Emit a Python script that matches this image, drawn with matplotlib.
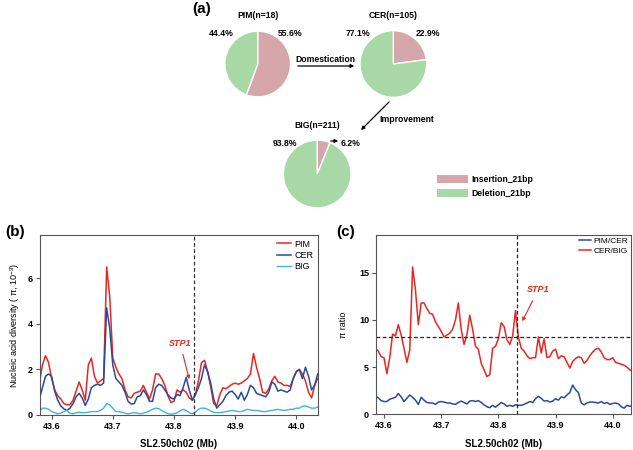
import matplotlib

matplotlib.use("Agg")
import matplotlib.pyplot as plt
import numpy as np
from matplotlib.patches import Patch

plt.rcParams["font.family"] = ["Liberation Sans", "DejaVu Sans"]
plt.rcParams["mathtext.fontset"] = "custom"
plt.rcParams["mathtext.rm"] = "Liberation Sans"
plt.rcParams["axes.unicode_minus"] = False

# (a) 21bp indel frequency per group
groups = ["PIM", "CER", "BIG"]
n_samples = [18, 105, 211]
insertion_pct = [55.6, 22.9, 6.2]
deletion_pct = [44.4, 77.1, 93.8]

# (b)/(c) windows along SL2.50ch02, step 5 kb
pos_mb = np.round(43.58 + 0.005 * np.arange(92), 3)

pi_pim = [
    1.4, 2.2, 2.6, 2.3, 1.6, 1.1, 0.85, 0.7, 0.5, 0.45,
    0.45, 0.65, 1.05, 1.45, 1.1, 0.65, 2.2, 2.5, 1.7, 1.4,
    1.5, 1.6, 6.5, 5.2, 2.5, 2.1, 1.8, 1.6, 1.1, 0.8,
    0.75, 0.95, 1.0, 1.05, 1.3, 1.0, 0.7, 1.1, 1.8, 1.8,
    1.6, 1.3, 0.85, 0.55, 0.6, 1.1, 1.0, 1.1, 1.0, 0.75,
    0.65, 0.9, 1.5, 2.3, 2.4, 1.9, 1.25, 0.5, 0.4, 0.9,
    1.2, 1.15, 1.25, 1.35, 1.4, 1.35, 1.4, 1.5, 1.6, 1.8,
    2.7, 2.1, 1.6, 1.0, 0.95, 1.15, 1.5, 1.7, 1.45, 1.4,
    1.3, 1.3, 1.25, 1.6, 1.9, 2.0, 1.8, 1.5, 1.0, 0.75,
    1.3, 1.6,
]
pi_cer = [
    0.7, 1.2, 1.7, 1.8, 1.7, 1.05, 0.65, 0.4, 0.27, 0.2,
    0.3, 0.5, 0.8, 0.95, 0.75, 0.42, 0.7, 1.2, 1.3, 1.35,
    1.3, 1.4, 4.7, 3.8, 2.2, 1.6, 1.45, 1.3, 1.0, 0.6,
    0.48, 0.5, 0.8, 0.85, 1.1, 0.9, 0.6, 0.6, 1.2, 1.35,
    1.3, 1.1, 0.9, 0.75, 0.7, 0.9, 0.85, 1.2, 1.65, 1.1,
    0.65, 0.9, 1.2, 1.6, 2.2, 1.9, 1.4, 0.7, 0.3, 0.45,
    0.6, 0.85, 1.0, 1.05, 0.9, 0.7, 1.0, 0.65, 0.9, 1.3,
    1.2, 0.95, 0.9, 0.85, 0.8, 1.0, 1.45, 1.35, 1.05, 1.1,
    1.05, 1.0, 1.1, 1.6, 1.9, 2.0, 1.6, 2.1, 1.7, 1.1,
    1.3, 1.8,
]
pi_big = [
    0.15, 0.3, 0.3, 0.25, 0.15, 0.1, 0.05, 0.08, 0.15, 0.2,
    0.08, 0.05, 0.1, 0.12, 0.1, 0.1, 0.12, 0.15, 0.15, 0.15,
    0.2, 0.3, 0.5, 0.45, 0.3, 0.15, 0.15, 0.12, 0.08, 0.05,
    0.08, 0.1, 0.08, 0.05, 0.08, 0.12, 0.18, 0.25, 0.3, 0.28,
    0.2, 0.12, 0.06, 0.04, 0.05, 0.1, 0.18, 0.25, 0.2, 0.1,
    0.05, 0.12, 0.25, 0.3, 0.3, 0.25, 0.18, 0.12, 0.1, 0.1,
    0.12, 0.15, 0.18, 0.2, 0.18, 0.15, 0.15, 0.2, 0.25, 0.22,
    0.2, 0.2, 0.18, 0.15, 0.15, 0.18, 0.2, 0.22, 0.25, 0.22,
    0.2, 0.22, 0.25, 0.25, 0.3, 0.3, 0.38, 0.4, 0.35, 0.3,
    0.3, 0.35,
]
ratio_pim_cer = [
    1.9, 1.9, 1.75, 1.45, 1.35, 1.35, 1.6, 1.7, 1.8, 2.2,
    1.85, 1.35, 1.7, 2.05, 1.8, 1.5, 1.05, 1.8, 1.5, 1.25,
    1.2, 1.2, 1.05, 1.3, 1.35, 1.3, 1.2, 1.2, 1.1, 1.05,
    1.25, 1.4, 1.25, 1.1, 1.4, 1.45, 1.35, 1.45, 1.25, 1.0,
    0.8, 0.7, 0.95, 0.75, 1.0, 1.25, 1.1, 0.85, 0.95, 0.85,
    1.0, 0.95, 0.95, 1.05, 1.2, 1.35, 1.25, 1.65, 1.9, 1.7,
    1.4, 1.45, 1.3, 1.4, 1.65, 1.5, 1.85, 1.75, 2.05, 2.3,
    3.1, 2.6, 2.3, 1.2, 1.0, 1.2, 1.3, 1.3, 1.25, 1.2,
    1.35, 1.15, 1.25, 1.05, 1.15, 1.2, 1.1, 0.8, 0.65, 0.95,
    0.85, 0.9,
]
ratio_cer_big = [
    7.0, 7.0, 6.7, 6.1, 6.0, 4.3, 6.0, 8.5, 8.3, 9.5,
    8.4, 7.0, 5.5, 6.8, 15.6, 13.2, 9.5, 11.8, 11.8, 11.2,
    10.7, 10.6, 9.8, 9.3, 8.8, 8.2, 8.4, 8.6, 9.0, 10.0,
    11.8, 9.0, 7.4, 8.4, 10.5, 9.0, 7.2, 6.9, 5.4, 4.7,
    4.0, 4.2, 7.0, 7.2, 8.0, 9.7, 9.3, 7.9, 7.4, 8.3,
    11.0, 8.2, 7.0, 6.7, 6.2, 5.9, 6.0, 6.0, 8.2, 6.5,
    8.0, 6.0, 6.1, 6.7, 6.9, 5.9, 6.2, 6.1, 5.5, 4.9,
    5.6, 5.9, 6.1, 6.0, 5.4, 5.7, 6.2, 6.6, 6.9, 7.0,
    6.6, 6.0, 5.8, 5.8, 6.0, 5.5, 5.4, 5.3, 5.2, 5.0,
    4.7, 4.6,
]
stp1_mb = 43.833
ratio_cutoff = 8.15

INS_COLOR = "#d6a7aa"
DEL_COLOR = "#a7d8a6"
RED = "#e8271f"
DBLUE = "#2a4a9e"
LBLUE = "#3db4e2"
SPINE = "#555555"

W, H = 633, 450
fig = plt.figure(figsize=(W / 100, H / 100), dpi=100)


def fx(x):
    return x / W


def fy(y):
    return 1 - y / H


def ftext(x, y, s, **kw):
    kw.setdefault("fontsize", 6.2)
    kw.setdefault("fontweight", "bold")
    kw.setdefault("ha", "center")
    kw.setdefault("va", "center")
    fig.text(fx(x), fy(y), s, **kw)


def farrow(x0, y0, x1, y1):
    fig.add_artist(matplotlib.patches.FancyArrowPatch(
        (fx(x0), fy(y0)), (fx(x1), fy(y1)), transform=fig.transFigure,
        arrowstyle="-|>", mutation_scale=5, lw=0.9, color="black"))


# ---- (a) pies ----
pie_spots = [(257.7, 64, 33.5), (393.3, 64, 34), (317.2, 174, 34.5)]
for g, n, ins, dele, (cx, cy, r) in zip(groups, n_samples, insertion_pct, deletion_pct, pie_spots):
    pax = fig.add_axes([fx(cx - r), fy(cy + r), 2 * r / W, 2 * r / H])
    pax.pie([ins, dele], colors=[INS_COLOR, DEL_COLOR], startangle=90, counterclock=False,
            wedgeprops=dict(edgecolor="white", linewidth=1.0))
    pax.set_xlim(-1.02, 1.02)
    pax.set_ylim(-1.02, 1.02)
    pax.set_axis_off()
    ftext(cx, cy - 48, f"{g}(n={n})")

ftext(221.7, 33, f"{deletion_pct[0]}%")
ftext(290, 33, f"{insertion_pct[0]}%")
ftext(358, 33, f"{deletion_pct[1]}%")
ftext(428, 33, f"{insertion_pct[1]}%")
ftext(285, 143, f"{deletion_pct[2]}%")
ftext(351, 143, f"{insertion_pct[2]}%")
farrow(328, 141, 341, 141)

ftext(325, 59, "Domestication")
farrow(295, 66, 357, 66)
ftext(407, 120, "Improvement")
farrow(391, 100, 359, 132)

fig.legend(handles=[Patch(facecolor=INS_COLOR), Patch(facecolor=DEL_COLOR)],
           labels=["Insertion_21bp", "Deletion_21bp"], loc="upper left",
           bbox_to_anchor=(fx(437), fy(175)), frameon=False, borderpad=0, borderaxespad=0,
           handlelength=3.6, handleheight=1.0, handletextpad=0.45, labelspacing=0.6,
           prop=dict(size=6.2, weight="bold"))

ftext(202, 9, "(a)", fontsize=11)
ftext(15, 232, "(b)", fontsize=11)
ftext(346, 232, "(c)", fontsize=11)


def style_axes(ax):
    for s in ax.spines.values():
        s.set_color(SPINE)
        s.set_linewidth(0.8)
    ax.tick_params(direction="out", length=3, width=0.8, color=SPINE, labelsize=6.5, pad=2)
    ax.set_xticks([43.6, 43.7, 43.8, 43.9, 44.0])
    ax.set_xticklabels(["43.6", "43.7", "43.8", "43.9", "44.0"], fontweight="bold")
    ax.set_xlabel("SL2.50ch02 (Mb)", fontsize=7, fontweight="bold", labelpad=6)


# ---- (b) nucleotide diversity ----
axb = fig.add_axes([fx(40), fy(415), 277.7 / W, 180 / H])
axb.plot(pos_mb, pi_pim, color=RED, lw=1.1, label="PIM")
axb.plot(pos_mb, pi_cer, color=DBLUE, lw=1.1, label="CER")
axb.plot(pos_mb, pi_big, color=LBLUE, lw=1.0, label="BIG")
axb.axvline(stp1_mb, color="#333333", lw=0.9, ls=(0, (3, 2)))
axb.set_xlim(43.581, 44.035)
axb.set_ylim(0, 7.9)
axb.set_yticks([0, 2, 4, 6])
style_axes(axb)
axb.set_yticklabels(["0", "2", "4", "6"], fontweight="bold")
axb.set_ylabel("Nucleic acid diversity ( π, 10$^{-3}$)", fontsize=6.5, labelpad=4)
axb.annotate("STP1", xy=(43.826, 1.45), xytext=(43.81, 3.16), color=RED, fontsize=6.5,
             fontweight="bold", fontstyle="italic", ha="center", va="center",
             arrowprops=dict(arrowstyle="-|>", color=RED, lw=0.8, mutation_scale=5, shrinkA=3))
axb.legend(loc="upper right", frameon=False, fontsize=6.5, handlelength=1.5, handletextpad=0.4,
           labelspacing=0.25, borderaxespad=0.3, borderpad=0.2)

# ---- (c) diversity ratio ----
axc = fig.add_axes([fx(376), fy(414.3), 255 / W, 179.3 / H])
axc.plot(pos_mb, ratio_pim_cer, color=DBLUE, lw=1.1, label="PIM/CER")
axc.plot(pos_mb, ratio_cer_big, color=RED, lw=1.1, label="CER/BIG")
axc.axvline(stp1_mb, color="#222222", lw=0.9, ls=(0, (3, 2)))
axc.axhline(ratio_cutoff, color="#222222", lw=0.9, ls=(0, (3, 2)))
axc.set_xlim(43.586, 44.032)
axc.set_ylim(0, 19)
axc.set_yticks([0, 5, 10, 15])
style_axes(axc)
axc.set_yticklabels(["0", "5", "10", "15"], fontweight="bold")
axc.set_ylabel("π ratio", fontsize=6.5, labelpad=8)
axc.annotate("STP1", xy=(43.8395, 9.6), xytext=(43.870, 13.2), color=RED, fontsize=6.5,
             fontweight="bold", fontstyle="italic", ha="center", va="center",
             arrowprops=dict(arrowstyle="-|>", color=RED, lw=0.8, mutation_scale=5, shrinkA=3))
axc.legend(loc="upper right", frameon=False, fontsize=6, handlelength=1.5, handletextpad=0.3,
           labelspacing=0.2, borderaxespad=0.2, borderpad=0.1)

fig.savefig("out.png", dpi=100)
